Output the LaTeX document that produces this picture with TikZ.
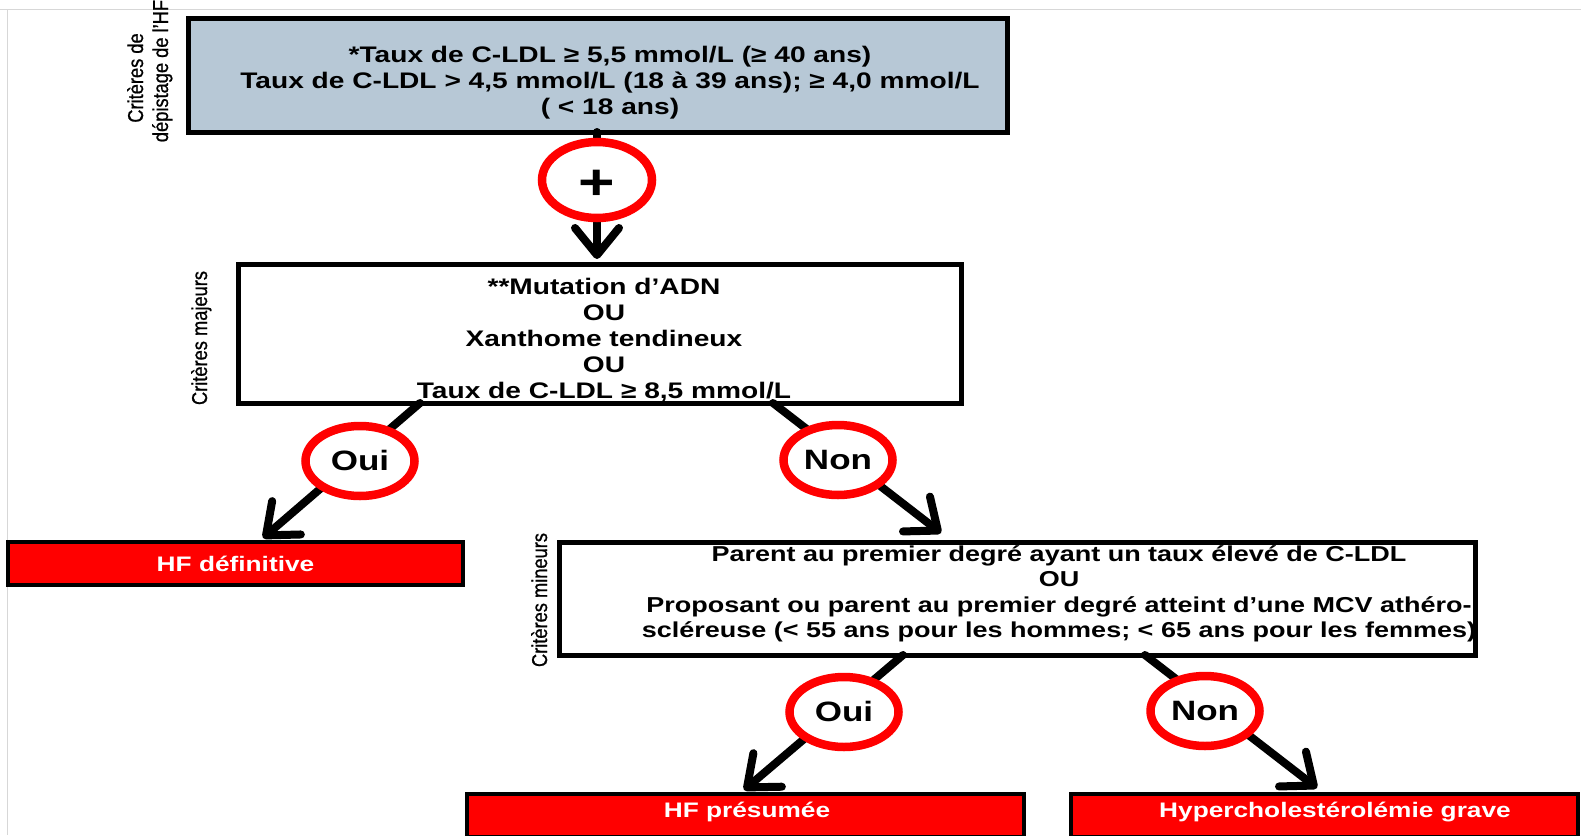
\documentclass[tikz,border=0pt]{standalone}
\usepackage{fontspec}
\setmainfont[FakeStretch=1.25]{Liberation Sans}
\newfontfamily\vlabfont[FakeStretch=0.85,FakeBold=0.8]{Liberation Sans}
\usetikzlibrary{arrows.meta,shapes.geometric}
\definecolor{boxblue}{RGB}{183,200,214}
\definecolor{ringred}{RGB}{255,0,0}
\definecolor{pagegray}{RGB}{215,215,215}
\begin{document}
\begin{tikzpicture}[x=1pt,y=-1pt,
  box/.style={draw=black, line width=5pt, inner sep=0pt, outer sep=0pt, anchor=north west},
  txt/.style={font=\bfseries\fontsize{22.5}{26}\selectfont, align=center, inner sep=0pt},
  ring/.style={ellipse, draw=ringred, line width=8.5pt, fill=white, minimum width=109pt, minimum height=70pt, inner sep=0pt, font=\bfseries\fontsize{28}{30}\selectfont, text height=19pt, text depth=0pt},
  arr/.style={line width=8pt, line cap=round, -{Straight Barb[length=27pt, width=44pt, round]}},
  result/.style={draw=black, line width=4pt, fill=red, inner sep=0pt, outer sep=0pt, anchor=north west, text=white, font=\bfseries\fontsize{21}{25}\selectfont},
  restxt/.style={text=white, font=\bfseries\fontsize{21}{25}\selectfont, inner sep=0pt, anchor=base},
  vlab/.style={rotate=90, anchor=base, inner sep=0pt, font=\vlabfont\fontsize{21.5}{25}\selectfont}
]
\path[use as bounding box] (0,0) rectangle (1581,835);
% page edges
\draw[pagegray, line width=1pt] (0,9) -- (1581,9);
\draw[pagegray, line width=1pt] (7.5,9) -- (7.5,835);

% side labels
\node[vlab] (lab1a) at (143,78) {Critères de};
\node[vlab] (lab1b) at (168,71) {dépistage de l’HF};
\node[vlab] (lab2) at (207,338) {Critères majeurs};
\node[vlab] (lab3) at (547,600) {Critères mineurs};

% boxes
\node[box, fill=boxblue, minimum width=819pt, minimum height=114pt] (top) at (188,18) {};
\node[txt] (toptxt) at (610,83) {*Taux de C-LDL ≥ 5,5 mmol/L (≥ 40 ans)\\Taux de C-LDL > 4,5 mmol/L (18 à 39 ans); ≥ 4,0 mmol/L\\( < 18 ans)};

\node[box, fill=white, minimum width=723pt, minimum height=139pt] (major) at (238,264) {};
\node[txt] (majtxt) at (604,340) {**Mutation d’ADN\\OU\\Xanthome tendineux\\OU\\Taux de C-LDL ≥ 8,5 mmol/L};

\node[box, fill=white, minimum width=916pt, minimum height=113pt] (minor) at (559,542) {};
\node[txt, font=\bfseries\fontsize{21.6}{25.4}\selectfont] (mintxt) at (1059,594) {Parent au premier degré ayant un taux élevé de C-LDL\\OU\\Proposant ou parent au premier degré atteint d’une MCV athéro-\\scléreuse (< 55 ans pour les hommes; < 65 ans pour les femmes)};

\node[result, minimum width=455pt, minimum height=43pt] (hfdef) at (8,542) {HF définitive};
\node[result, minimum width=557pt, minimum height=43pt] (hfpres) at (467,794) {};
\node[restxt] (hfprestxt) at (747,817) {HF présumée};
\node[result, minimum width=507pt, minimum height=43pt] (hyper) at (1071,794) {};
\node[restxt] (hypertxt) at (1335,817) {Hypercholestérolémie grave};

% connector end points
\coordinate (s0) at (597,132);
\coordinate (t0) at (597,259);
\coordinate (s1) at (420,403);
\coordinate (t1) at (263,538);
\coordinate (s2) at (773,403);
\coordinate (t2) at (941,533);
\coordinate (s3) at (903,655);
\coordinate (t3) at (744,790);
\coordinate (s4) at (1145,655);
\coordinate (t4) at (1317,788);

% connectors
\draw[arr] (s0) -- (t0);
\draw[arr] (s1) -- (t1);
\draw[arr] (s2) -- (t2);
\draw[arr] (s3) -- (t3);
\draw[arr] (s4) -- (t4);

% rings on the connectors
\node[ring, minimum width=110pt, minimum height=76pt, font=\bfseries\fontsize{50}{50}\selectfont, text depth=0pt, text height=38pt] (plus) at (597,180) {+};
\node[ring] (oui1) at (360,461) {Oui};
\node[ring] (non1) at (838,460) {Non};
\node[ring] (oui2) at (844,712) {Oui};
\node[ring] (non2) at (1205,711) {Non};
\end{tikzpicture}
\end{document}
